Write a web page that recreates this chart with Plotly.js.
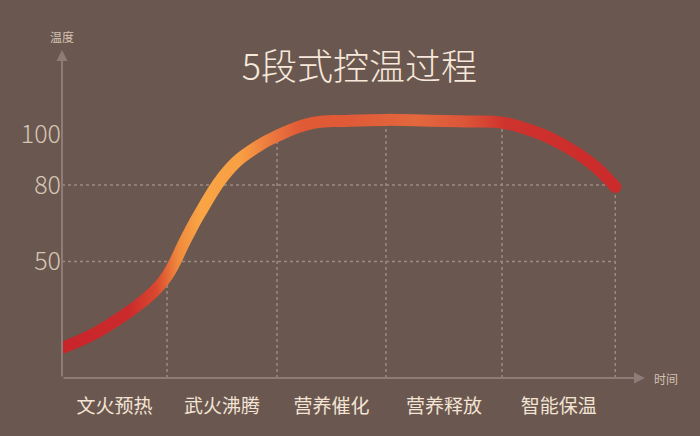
<!DOCTYPE html>
<html>
<head>
<meta charset="utf-8">
<script src="https://cdn.plot.ly/plotly-3.0.1.min.js"></script>
<style>
  html, body { margin: 0; padding: 0; background: #6a5750; }
  #grafico { width: 700px; height: 436px; }
</style>
</head>
<body>
<div id="grafico"></div>
<script>
// ------ DATOS DE LA CURVA (tiempo / temperatura)
const tiempo = [0, 0.236, 0.436, 0.645, 0.827, 0.955, 1.136, 1.255, 1.509, 1.755, 1.955, 2.282, 2.591, 2.945, 3.345, 3.7, 4.0, 4.19, 4.436, 4.68, 4.86, 5.03];
const temperatura = [16.1, 20.4, 25.3, 31.4, 37.8, 44.3, 59.6, 69.0, 85.6, 94.5, 99.2, 104.3, 105.1, 105.5, 105.2, 104.9, 104.4, 102.4, 98.4, 92.5, 86.7, 79.2];

// ------ ETAPAS
const etapas = ["文火预热", "武火沸腾", "营养催化", "营养释放", "智能保温"];
const finEtapa = [0.955, 1.955, 2.945, 4.0, 5.03];

// ------ EJE Y
const ticksY = [50, 80, 100];
const lineasRef = [50, 80];

const rangoX = [0, 5.3];
const rangoY = [4.3, 132.9];

// centro de cada etapa para la etiqueta
const centrosEtapa = finEtapa.map(function (fin, i) {
    const inicio = i === 0 ? 0 : finEtapa[i - 1];
    return (inicio + fin) / 2;
});

const colorGrid = "#9c8b83";
const colorEje = "#8e7d76";

// lineas punteadas
const formas = [];
lineasRef.forEach(function (v) {
    formas.push({
        type: "line", xref: "x", yref: "y", layer: "below",
        x0: rangoX[0], x1: finEtapa[finEtapa.length - 1], y0: v, y1: v,
        line: { color: colorGrid, width: 1.5, dash: "dot" }
    });
});
finEtapa.forEach(function (t) {
    const temp = temperatura[tiempo.indexOf(t)];
    formas.push({
        type: "line", xref: "x", yref: "y", layer: "below",
        x0: t, x1: t, y0: rangoY[0], y1: temp,
        line: { color: colorGrid, width: 1.5, dash: "dot" }
    });
});

const curva = {
    x: tiempo,
    y: temperatura,
    type: "scatter",
    mode: "lines",
    line: { shape: "spline", smoothing: 1.3, width: 12, color: "#e0563a" },
    hoverinfo: "skip"
};

const layout = {
    width: 700,
    height: 436,
    paper_bgcolor: "#6a5750",
    plot_bgcolor: "#6a5750",
    margin: { l: 62, r: 55, t: 50, b: 58, pad: 0 },
    showlegend: false,
    font: { family: "Noto Sans CJK SC, Noto Sans, sans-serif", color: "#f3e4d4" },
    title: {
        text: "5段式控温过程",
        font: { size: 36, color: "#f6e8da", weight: 300 },
        x: 0.51, xanchor: "center", xref: "paper",
        y: 0.846, yanchor: "middle", yref: "container"
    },
    xaxis: {
        range: rangoX,
        showgrid: false, zeroline: false, showline: false,
        tickvals: centrosEtapa,
        ticktext: etapas,
        ticks: "outside", ticklen: 11, tickcolor: "rgba(0,0,0,0)",
        tickfont: { size: 19, color: "#f3e4d4" },
        fixedrange: true
    },
    yaxis: {
        range: rangoY,
        showgrid: false, zeroline: false, showline: false,
        tickvals: ticksY,
        ticks: "",
        tickfont: { size: 25, color: "#d6c5b4", weight: 300 },
        fixedrange: true
    },
    shapes: formas,
    annotations: [
        {   // eje x con flecha
            xref: "x", yref: "y", axref: "x", ayref: "y",
            x: rangoX[1], y: rangoY[0], ax: rangoX[0], ay: rangoY[0],
            text: "", showarrow: true, arrowhead: 2, arrowsize: 1.1, arrowwidth: 2,
            arrowcolor: colorEje, standoff: 0
        },
        {   // eje y con flecha
            xref: "x", yref: "y", axref: "x", ayref: "y",
            x: rangoX[0], y: rangoY[1], ax: rangoX[0], ay: rangoY[0],
            text: "", showarrow: true, arrowhead: 2, arrowsize: 1.1, arrowwidth: 2,
            arrowcolor: colorEje, standoff: 0
        },
        {
            xref: "paper", yref: "paper", x: 0, y: 1,
            xanchor: "center", yanchor: "bottom", yshift: 3,
            text: "温度", showarrow: false,
            font: { size: 12, color: "#d2c2b2" }
        },
        {
            xref: "paper", yref: "y", x: 1, y: rangoY[0],
            xanchor: "left", yanchor: "middle", xshift: 7,
            text: "时间", showarrow: false,
            font: { size: 12, color: "#d2c2b2" }
        }
    ]
};

// degradado de la curva (rojo -> naranja -> rojo)
const paradas = [
    [0.00, "#c8252b"], [0.12, "#cb2a2b"], [0.17, "#d9482f"], [0.21, "#ef8a3d"],
    [0.25, "#f9a445"], [0.32, "#f8a044"], [0.37, "#ed7d3f"], [0.43, "#e15a36"],
    [0.52, "#e05a37"], [0.64, "#e3683d"], [0.73, "#dc5538"], [0.80, "#cf332d"],
    [1.00, "#cb2b2b"]
];

function pintarDegradado() {
    const svg = document.querySelector("#grafico .main-svg");
    if (!svg) return;
    const ns = "http://www.w3.org/2000/svg";
    if (!document.getElementById("gradCurva")) {
        let defs = svg.querySelector("defs");
        if (!defs) {
            defs = document.createElementNS(ns, "defs");
            svg.insertBefore(defs, svg.firstChild);
        }
        const grad = document.createElementNS(ns, "linearGradient");
        grad.setAttribute("id", "gradCurva");
        grad.setAttribute("x1", "0");
        grad.setAttribute("y1", "0");
        grad.setAttribute("x2", "1");
        grad.setAttribute("y2", "0");
        paradas.forEach(function (p) {
            const stop = document.createElementNS(ns, "stop");
            stop.setAttribute("offset", p[0]);
            stop.setAttribute("stop-color", p[1]);
            grad.appendChild(stop);
        });
        defs.appendChild(grad);
    }
    const linea = document.querySelector("#grafico .scatterlayer .trace path.js-line");
    if (linea) {
        linea.style.stroke = "url(#gradCurva)";
        linea.style.strokeLinecap = "round";
    }
}

const div = document.getElementById("grafico");
Plotly.newPlot(div, [curva], layout, { displayModeBar: false, staticPlot: true }).then(function () {
    pintarDegradado();
    div.on("plotly_afterplot", pintarDegradado);
});
</script>
</body>
</html>
